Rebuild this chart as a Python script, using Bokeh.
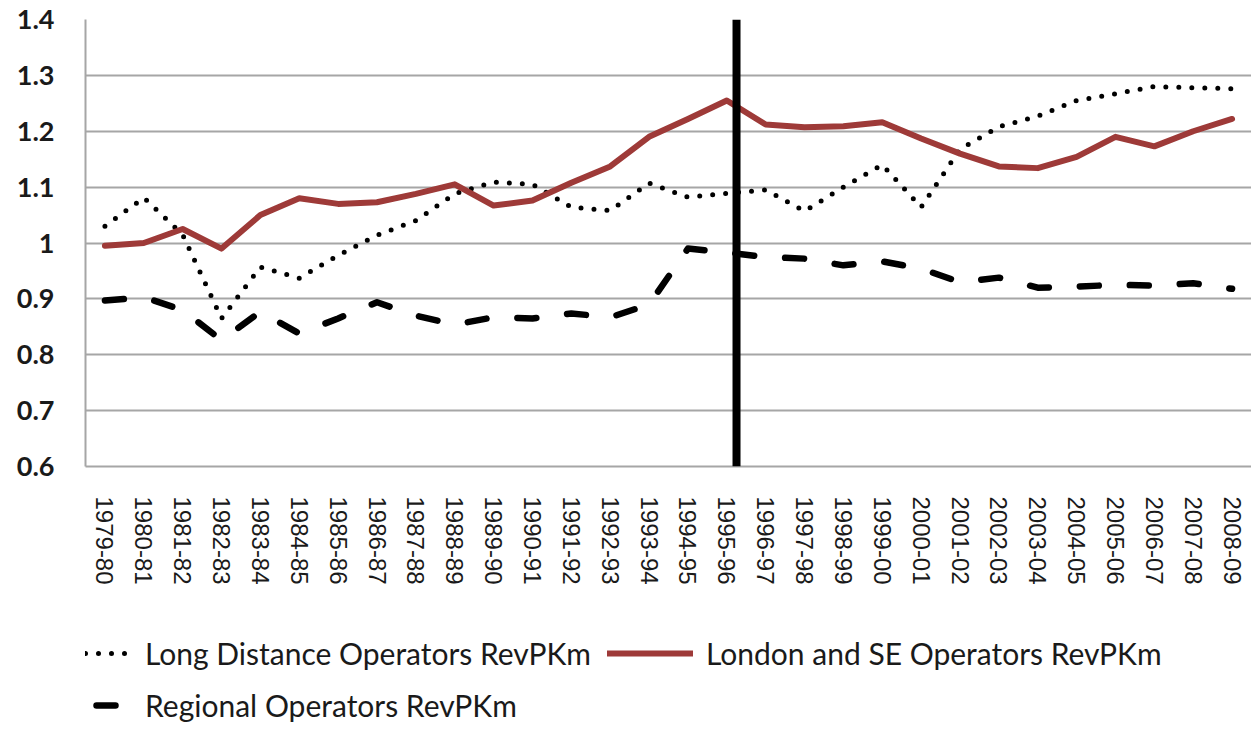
from bokeh.plotting import figure
from bokeh.models import FixedTicker, Span, Legend, LegendItem
from bokeh.layouts import column
from bokeh.embed import file_html
from bokeh.resources import INLINE

categories = ["1979-80", "1980-81", "1981-82", "1982-83", "1983-84", "1984-85",
              "1985-86", "1986-87", "1987-88", "1988-89", "1989-90", "1990-91",
              "1991-92", "1992-93", "1993-94", "1994-95", "1995-96", "1996-97",
              "1997-98", "1998-99", "1999-00", "2000-01", "2001-02", "2002-03",
              "2003-04", "2004-05", "2005-06", "2006-07", "2007-08", "2008-09"]

long_distance = [1.03, 1.081, 1.015, 0.865, 0.957, 0.937, 0.978, 1.014, 1.04, 1.088,
                 1.109, 1.105, 1.064, 1.058, 1.107, 1.082, 1.089, 1.095, 1.057, 1.10,
                 1.14, 1.064, 1.168, 1.208, 1.227, 1.255, 1.267, 1.28, 1.278, 1.276]

london_se = [0.995, 1.00, 1.025, 0.99, 1.05, 1.08, 1.07, 1.073, 1.088, 1.105,
             1.067, 1.076, 1.108, 1.137, 1.19, 1.222, 1.255, 1.212, 1.207, 1.209,
             1.216, 1.187, 1.16, 1.137, 1.134, 1.154, 1.19, 1.173, 1.20, 1.222]

regional = [0.897, 0.903, 0.88, 0.826, 0.877, 0.838, 0.865, 0.894, 0.87, 0.854,
            0.867, 0.865, 0.874, 0.867, 0.89, 0.99, 0.983, 0.975, 0.972, 0.96,
            0.967, 0.954, 0.93, 0.938, 0.92, 0.922, 0.925, 0.924, 0.928, 0.918]

series_names = ["Long Distance Operators RevPKm",
                "London and SE Operators RevPKm",
                "Regional Operators RevPKm"]

y_ticks = [0.6, 0.7, 0.8, 0.9, 1.0, 1.1, 1.2, 1.3, 1.4]
y_tick_labels = ["0.6", "0.7", "0.8", "0.9", "1", "1.1", "1.2", "1.3", "1.4"]

divider_position = 16.25  # category index where the vertical marker sits

x = list(range(len(categories)))

LD_STYLE = dict(line_color="black", line_width=5, line_dash="0 13",
                line_cap="round", line_join="round")
LN_STYLE = dict(line_color="#9e3a38", line_width=6,
                line_cap="round", line_join="round")
RG_STYLE = dict(line_color="black", line_width=6.5, line_dash="19 31",
                line_cap="round", line_join="round")

p = figure(width=1251, height=600, output_backend="svg", toolbar_location=None,
           x_range=(-0.5, len(categories) - 0.5), y_range=(0.6, 1.4),
           min_border_left=85, min_border_right=0, min_border_top=19,
           min_border_bottom=134)
p.outline_line_color = None

p.xgrid.grid_line_color = None
p.ygrid.grid_line_color = "#a6a6a6"
p.ygrid.grid_line_width = 2

p.yaxis.ticker = FixedTicker(ticks=y_ticks)
p.yaxis.major_label_overrides = dict(zip(y_ticks, y_tick_labels))
p.yaxis.axis_line_color = "#a6a6a6"
p.yaxis.axis_line_width = 2
p.yaxis.major_tick_line_color = None
p.yaxis.minor_tick_line_color = None
p.yaxis.major_tick_out = 0
p.yaxis.major_label_standoff = 31
p.yaxis.major_label_text_font = "Lato"
p.yaxis.major_label_text_font_style = "bold"
p.yaxis.major_label_text_font_size = "27px"
p.yaxis.major_label_text_color = "#1a1a1a"

p.xaxis.ticker = FixedTicker(ticks=x)
p.xaxis.major_label_overrides = {i: c for i, c in zip(x, categories)}
p.xaxis.major_label_orientation = "vertical"
p.xaxis.axis_line_color = "#a6a6a6"
p.xaxis.axis_line_width = 2
p.xaxis.major_tick_line_color = None
p.xaxis.minor_tick_line_color = None
p.xaxis.major_tick_out = 0
p.xaxis.major_label_standoff = 30
p.xaxis.major_label_text_font = "Liberation Sans"
p.xaxis.major_label_text_font_size = "24px"
p.xaxis.major_label_text_color = "#1a1a1a"

p.line(x, long_distance, **LD_STYLE)
p.line(x, london_se, **LN_STYLE)
p.line(x, regional, **RG_STYLE)

p.add_layout(Span(location=divider_position, dimension="height",
                  line_color="black", line_width=8))

# legend strip below the chart (same series, plotted out of view so only
# the legend samples show)
q = figure(width=1251, height=135, output_backend="svg", toolbar_location=None,
           x_axis_location=None, y_axis_location=None,
           min_border_left=0, min_border_right=0, min_border_top=0,
           min_border_bottom=0, x_range=(0, 1), y_range=(100, 101))
q.outline_line_color = None
q.grid.grid_line_color = None
k_ld = q.line(x, long_distance, **LD_STYLE)
k_ln = q.line(x, london_se, **LN_STYLE)
k_rg = q.line(x, regional, **RG_STYLE)

legend = Legend(
    items=[LegendItem(label=series_names[0], renderers=[k_ld]),
           LegendItem(label=series_names[1], renderers=[k_ln]),
           LegendItem(label=series_names[2], renderers=[k_rg])],
    location=(-39, 12), orientation="horizontal", ncols=2,
    margin=0, padding=0, spacing=16,
    glyph_width=86, glyph_height=36, label_height=36, label_standoff=13,
    label_text_font="Lato", label_text_font_size="30px",
    label_text_color="#1a1a1a",
    background_fill_alpha=0, border_line_color=None)
q.add_layout(legend)

open("out.html", "w").write(file_html(column(p, q, spacing=0), INLINE))
